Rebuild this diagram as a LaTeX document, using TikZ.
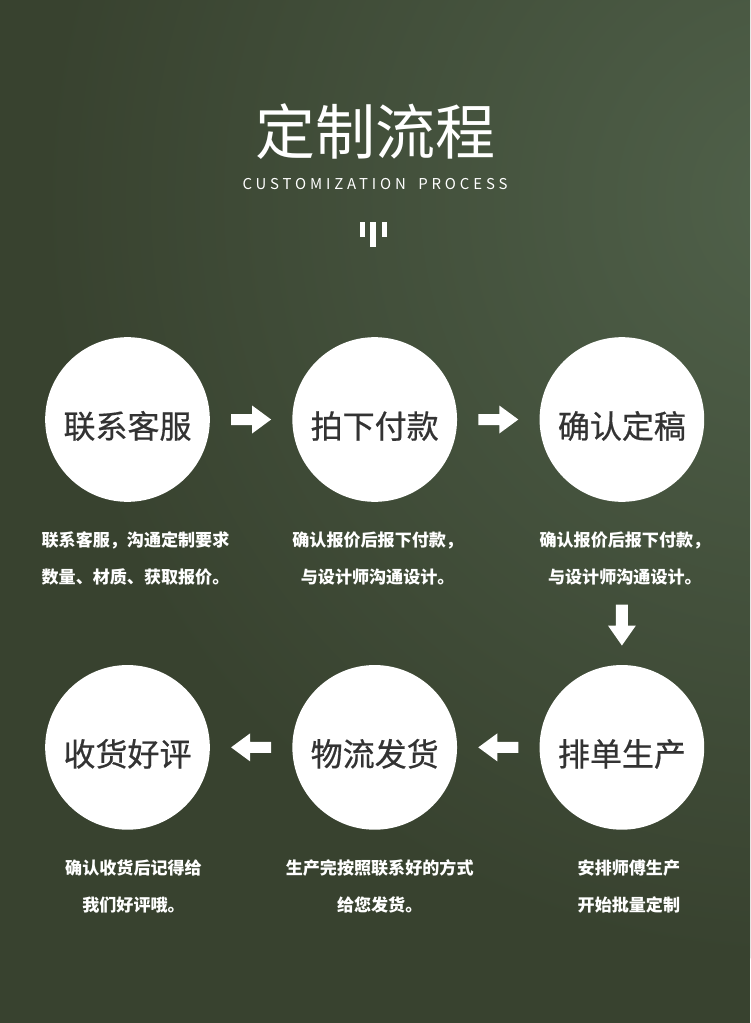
\documentclass[tikz,border=0pt]{standalone}
\usepackage{fontspec}
\setmainfont{Noto Sans CJK SC}
\newfontfamily\latfont[LetterSpace=26]{Noto Sans CJK SC}
\newfontfamily\circfont[FakeBold=0.6]{Noto Sans CJK SC}
\usepackage{xcolor}
\usepackage{tikz}
\usetikzlibrary{positioning, calc}
\definecolor{fundo}{HTML}{38422F}
\definecolor{fundoclaro}{HTML}{50614A}
\definecolor{texto}{HTML}{333333}
\tikzset{
    circulo/.style = {circle, fill=white, minimum size=123.5pt, inner sep=0pt,
                      text=texto, text height=30pt, text depth=2pt,
                      font=\circfont\fontsize{24}{26}\selectfont},
    desc/.style    = {text=white, align=center, inner sep=0pt,
                      font=\fontsize{12.8}{27.8}\selectfont\bfseries},
    seta/.style    = {fill=white},
}

\begin{document}
\begin{tikzpicture}[x=0.75pt, y=-0.75pt]
    % fundo
    \fill[fundo] (0,0) rectangle (750,1023);
    \begin{scope}
        \clip (0,0) rectangle (750,1023);
        \shade[inner color=fundoclaro, outer color=fundo] (800,200) circle (760);
    \end{scope}
    \useasboundingbox (0,0) rectangle (750,1023);
    % título
    \node[text=white, font=\fontsize{45}{50}\selectfont] (titulo) at (375,132) {定制流程};
    \node[text=white, font=\latfont\fontsize{11.2}{12}\selectfont] (subtitulo) at (375,184) {CUSTOMIZATION\hspace{3.8pt} PROCESS};
    \fill[white] (360,222) rectangle (365,237);
    \fill[white] (370,222) rectangle (375.5,247);
    \fill[white] (382,222) rectangle (387,237);
    % círculos
    \node[circulo] (c1) at (127.5,419.5) {联系客服};
    \node[circulo, right=61.5pt of c1] (c2) {拍下付款};
    \node[circulo, right=61.5pt of c2] (c3) {确认定稿};
    \node[circulo, below=122pt of c3] (c4) {排单生产};
    \node[circulo, left=61.5pt of c4] (c5) {物流发货};
    \node[circulo, left=61.5pt of c5] (c6) {收货好评};
    % textos
    \node[desc] (d1) at ($(c1)+(8,139)$) {联系客服，沟通定制要求\\数量、材质、获取报价。};
    \node[desc] (d2) at ($(c2)+(3,139)$) {确认报价后报下付款，\\与设计师沟通设计。};
    \node[desc] (d3) at ($(c3)+(3,139)$) {确认报价后报下付款，\\与设计师沟通设计。};
    \node[desc] (d4) at ($(c4)+(7,139)$) {安排师傅生产\\开始批量定制};
    \node[desc] (d5) at ($(c5)+(5,139)$) {生产完按照联系好的方式\\给您发货。};
    \node[desc] (d6) at ($(c6)+(6,139)$) {确认收货后记得给\\我们好评哦。};
    % setas
    \coordinate (s1) at ($(c1)!0.5!(c2)$);
    \coordinate (s2) at ($(c2)!0.5!(c3)$);
    \coordinate (s3) at ($(c3)+(0,205)$);
    \coordinate (s4) at ($(c4)!0.5!(c5)$);
    \coordinate (s5) at ($(c5)!0.5!(c6)$);
    \fill[seta, shift={(s1)}] (-20,-5.5) -- (1,-5.5) -- (1,-14) -- (20,0) -- (1,14) -- (1,5.5) -- (-20,5.5) -- cycle;
    \fill[seta, shift={(s2)}] (-20,-5.5) -- (1,-5.5) -- (1,-14) -- (20,0) -- (1,14) -- (1,5.5) -- (-20,5.5) -- cycle;
    \fill[seta, shift={(s3)}, rotate=-90] (-20,-6) -- (1,-6) -- (1,-14) -- (21,0) -- (1,14) -- (1,6) -- (-20,6) -- cycle;
    \fill[seta, shift={(s4)}, rotate=180] (-20,-5.5) -- (1,-5.5) -- (1,-14) -- (20,0) -- (1,14) -- (1,5.5) -- (-20,5.5) -- cycle;
    \fill[seta, shift={(s5)}, rotate=180] (-20,-5.5) -- (1,-5.5) -- (1,-14) -- (20,0) -- (1,14) -- (1,5.5) -- (-20,5.5) -- cycle;
\end{tikzpicture}
\end{document}
